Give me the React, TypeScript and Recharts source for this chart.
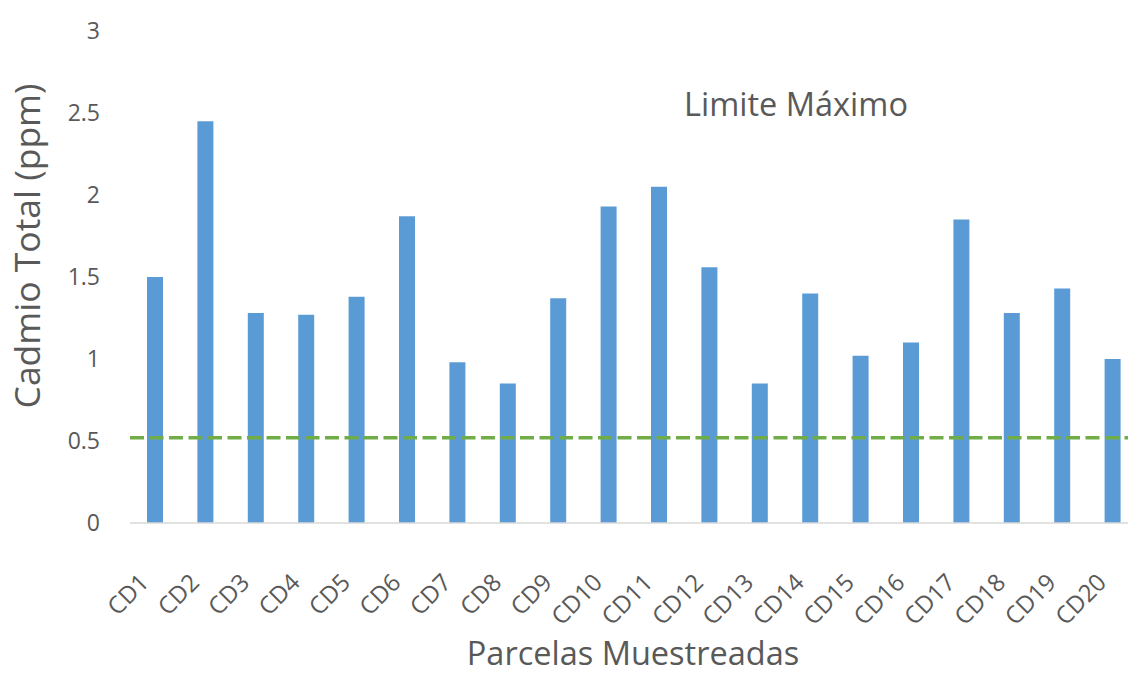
import { BarChart, Bar, XAxis, YAxis, ReferenceLine } from 'recharts';

const parcelas = ['CD1', 'CD2', 'CD3', 'CD4', 'CD5', 'CD6', 'CD7', 'CD8', 'CD9', 'CD10',
  'CD11', 'CD12', 'CD13', 'CD14', 'CD15', 'CD16', 'CD17', 'CD18', 'CD19', 'CD20'];
const cadmio = [1.5, 2.45, 1.28, 1.27, 1.38, 1.87, 0.98, 0.85, 1.37, 1.93,
  2.05, 1.56, 0.85, 1.4, 1.02, 1.1, 1.85, 1.28, 1.43, 1.0];
const limiteMaximo = 0.52;
const yTicks = [0, 0.5, 1, 1.5, 2, 2.5, 3];

const data = parcelas.map((p, i) => ({ parcela: p, cadmio: cadmio[i] }));

const FONT = '"Open Sans", "Noto Sans", sans-serif';
const GREY = '#595959';

const XTick = ({ x, y, payload }: any) => (
  <g transform={`translate(${x - 5},${y + 53}) rotate(-45)`}>
    <text x={0} y={0} textAnchor="end" fill={GREY} fontSize={24} fontFamily={FONT}>
      {payload.value}
    </text>
  </g>
);

const YTick = ({ x, y, payload }: any) => (
  <text x={x} y={y} dy={8} textAnchor="end" fill={GREY} fontSize={23} fontFamily={FONT}>
    {payload.value}
  </text>
);

export default function App() {
  return (
    <div style={{ position: 'absolute', left: 0, top: 0, width: 1128, height: 676, overflow: 'hidden', background: '#fff' }}>
      <BarChart
        width={1140}
        height={676}
        data={data}
        margin={{ top: 31, right: 2, bottom: 0, left: 0 }}
        barCategoryGap={0}
      >
        <XAxis
          dataKey="parcela"
          interval={0}
          axisLine={{ stroke: '#D9D9D9', strokeWidth: 1.5 }}
          tickLine={false}
          tick={<XTick />}
          height={153}
          label={{
            content: () => (
              <text x={633} y={665} textAnchor="middle" fill={GREY} fontSize={32.5} fontFamily={FONT}>
                Parcelas Muestreadas
              </text>
            ),
          }}
        />
        <YAxis
          width={130}
          domain={[0, 3]}
          ticks={yTicks}
          axisLine={false}
          tickLine={false}
          tickMargin={24}
          tick={<YTick />}
          label={{
            content: () => (
              <text
                x={40}
                y={246}
                transform="rotate(-90 40 246)"
                textAnchor="middle"
                fill={GREY}
                fontSize={35.5}
                fontFamily={FONT}
              >
                Cadmio Total (ppm)
              </text>
            ),
          }}
        />
        <Bar dataKey="cadmio" fill="#5B9BD5" barSize={16} isAnimationActive={false} />
        <ReferenceLine
          y={limiteMaximo}
          stroke="#70AD47"
          strokeWidth={3.5}
          strokeDasharray="14 5.5"
          label={{
            content: () => (
              <text x={796} y={116} textAnchor="middle" fill={GREY} fontSize={32.5} fontFamily={FONT}>
                Limite Máximo
              </text>
            ),
          }}
        />
      </BarChart>
    </div>
  );
}
